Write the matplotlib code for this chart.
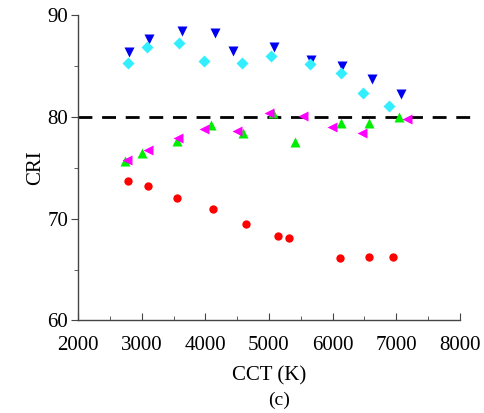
import matplotlib.pyplot as plt
from matplotlib.ticker import MultipleLocator

plt.rcParams['font.family'] = ['Liberation Serif', 'DejaVu Serif']

# data
cct_red = [2785, 3100, 3555, 4120, 4640, 5140, 5315, 6115, 6570, 6945]
cri_red = [73.7, 73.2, 72.0, 70.9, 69.5, 68.3, 68.1, 66.1, 66.2, 66.2]

cct_blue = [2800, 3115, 3630, 4150, 4435, 5080, 5660, 6145, 6620, 7075]
cri_blue = [86.4, 87.6, 88.4, 88.2, 86.5, 86.8, 85.6, 85.0, 83.7, 82.2]

cct_cyan = [2785, 3085, 3585, 3980, 4575, 5030, 5645, 6130, 6475, 6885]
cri_cyan = [85.3, 86.8, 87.2, 85.5, 85.3, 86.0, 85.2, 84.3, 82.3, 81.1]

cct_green = [2740, 3005, 3555, 4090, 4590, 5065, 5410, 6130, 6570, 7040]
cri_green = [75.7, 76.4, 77.6, 79.2, 78.4, 80.4, 77.5, 79.4, 79.4, 80.0]

cct_mag = [2770, 3100, 3570, 3980, 4495, 5000, 5535, 5990, 6460, 7165]
cri_mag = [75.8, 76.7, 77.9, 78.8, 78.6, 80.4, 80.1, 79.0, 78.4, 79.8]

ref_cri = 80

fig = plt.figure(figsize=(4.85, 4.13), dpi=100)
ax = fig.add_axes([0.161, 0.224, 0.787, 0.740])

ax.plot([2000, 8250], [ref_cri, ref_cri], color='black', lw=2, ls=(0, (5, 3.5)),
        clip_on=False, zorder=1)

ax.plot(cct_red, cri_red, 'o', color='#ff0000', ms=6, mec='none', zorder=3)
ax.plot(cct_blue, cri_blue, 'v', color='#0000ee', ms=7, mec='none', zorder=3)
ax.plot(cct_cyan, cri_cyan, 'D', color='#33eeff', ms=6, mec='none', zorder=3)
ax.plot(cct_green, cri_green, '^', color='#00ee00', ms=7, mec='none', zorder=3)
ax.plot(cct_mag, cri_mag, '<', color='#ff00ff', ms=7, mec='none', zorder=4)

ax.set_xlim(2000, 8000)
ax.set_ylim(60, 90)
ax.xaxis.set_major_locator(MultipleLocator(1000))
ax.xaxis.set_minor_locator(MultipleLocator(500))
ax.yaxis.set_major_locator(MultipleLocator(10))
ax.yaxis.set_minor_locator(MultipleLocator(5))

for s in ['top', 'right']:
    ax.spines[s].set_visible(False)
for s in ['left', 'bottom']:
    ax.spines[s].set_color('#444444')
    ax.spines[s].set_linewidth(1)

ax.tick_params(axis='x', which='both', direction='in', color='#444444', labelsize=15, pad=11)
ax.tick_params(axis='y', which='both', direction='out', color='#444444', labelsize=15, pad=2)
ax.tick_params(which='major', length=5)
ax.tick_params(which='minor', length=3)

ax.set_xlabel('CCT (K)', fontsize=15, labelpad=8)
ax.set_ylabel('CRI', fontsize=15, labelpad=2)
fig.text(0.575, 0.02, '(c)', fontsize=14, ha='center')

fig.savefig('out.png', dpi=100)
